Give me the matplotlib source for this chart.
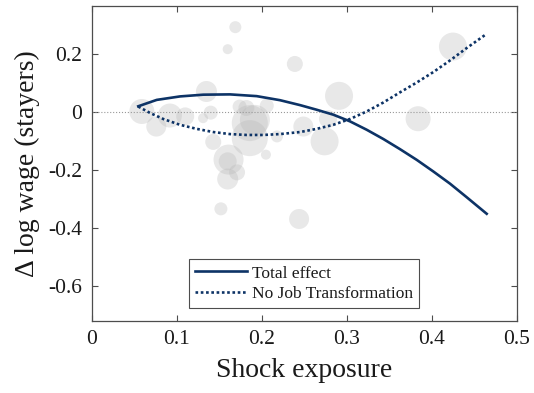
import numpy as np
import matplotlib
matplotlib.use("Agg")
import matplotlib.pyplot as plt

# bubble data (shock exposure, wage change, bubble radius in px)
bubble_x = [0.169, 0.160, 0.239, 0.425, 0.135, 0.291, 0.059, 0.076, 0.092, 0.110,
            0.140, 0.131, 0.143, 0.161, 0.171, 0.160, 0.152, 0.244, 0.174, 0.182,
            0.186, 0.192, 0.186, 0.205, 0.218, 0.206, 0.249, 0.274, 0.384, 0.278,
            0.160]
bubble_y = [0.293, 0.217, 0.166, 0.226, 0.071, 0.056, 0.002, -0.050, -0.012, -0.015,
            -0.002, -0.021, -0.103, -0.164, -0.208, -0.231, -0.334, -0.369, 0.019, 0.014,
            -0.038, -0.027, -0.090, -0.147, -0.084, 0.022, -0.050, -0.101, -0.023, -0.024,
            -0.170]
bubble_r = [6, 5, 8, 14, 10.5, 14, 12.5, 10, 12, 9,
            7, 5, 8, 15, 8, 10.5, 6.5, 10, 7, 8,
            18, 15, 18, 5, 6, 7, 10, 14, 12.5, 9,
            9]

# fitted curves
total_x = [0.0548, 0.0765, 0.1039, 0.1313, 0.1627, 0.1941, 0.2215, 0.2451, 0.2647,
           0.2842, 0.3038, 0.3235, 0.3431, 0.3627, 0.3824, 0.4019, 0.4215, 0.4412,
           0.4647]
total_y = [0.020, 0.042, 0.054, 0.060, 0.061, 0.055, 0.041, 0.024, 0.008,
           -0.009, -0.032, -0.061, -0.093, -0.128, -0.165, -0.205, -0.247, -0.294,
           -0.351]
nojob_x = [0.0548, 0.0686, 0.0843, 0.1039, 0.1235, 0.1431, 0.1627, 0.1824, 0.2019,
           0.2215, 0.2451, 0.2647, 0.2842, 0.3038, 0.3235, 0.3431, 0.3627, 0.3824,
           0.4019, 0.4215, 0.4412, 0.4647]
nojob_y = [0.019, -0.003, -0.024, -0.044, -0.058, -0.069, -0.076, -0.079, -0.079,
           -0.076, -0.069, -0.058, -0.044, -0.024, 0.002, 0.033, 0.068, 0.102,
           0.138, 0.178, 0.221, 0.270]

navy = '#0d3366'
plt.rcParams['font.family'] = ['Liberation Serif', 'DejaVu Serif']

fig = plt.figure(figsize=(5.34, 3.93), dpi=100)
ax = fig.add_axes([0.1717, 0.184, 0.7959, 0.8007])

sizes = [(2 * r * 0.72) ** 2 for r in bubble_r]
ax.scatter(bubble_x, bubble_y, s=sizes, color='0.72', alpha=0.32,
           linewidths=0, zorder=1)
ax.axhline(0, color='0.6', lw=0.8, ls=':', zorder=2)

ax.plot(total_x, total_y, color=navy, lw=1.9, label='Total effect', zorder=3)
ax.plot(nojob_x, nojob_y, color=navy, lw=1.9, ls=(0, (1, 1)),
        label='No Job Transformation', zorder=3)

ax.set_xlim(0, 0.5)
ax.set_ylim(-0.72, 0.366)
ax.set_xticks([0, 0.1, 0.2, 0.3, 0.4, 0.5])
ax.set_xticklabels(['0', '0.1', '0.2', '0.3', '0.4', '0.5'])
ax.set_yticks([-0.6, -0.4, -0.2, 0, 0.2])
ax.set_yticklabels(['-0.6', '-0.4', '-0.2', '0', '0.2'])
ax.tick_params(direction='in', top=True, right=True, length=4, width=0.8,
               color='0.3', labelsize=15.5, pad=7, labelcolor='0.1')
for s in ax.spines.values():
    s.set_color('0.3')
    s.set_linewidth(0.9)

ax.set_xlabel('Shock exposure', fontsize=20, color='0.1', labelpad=6)
ax.set_ylabel('Δ log wage (stayers)', fontsize=20, color='0.1', labelpad=6)

leg = ax.legend(loc='lower center', bbox_to_anchor=(0.5, 0.04), fontsize=12.5,
                fancybox=False, edgecolor='0.3', framealpha=1, handlelength=3.0,
                handletextpad=0.3, borderpad=0.35, labelspacing=0.25,
                borderaxespad=0)
leg.get_frame().set_linewidth(0.8)
for t in leg.get_texts():
    t.set_color('0.1')

fig.savefig('out.png', dpi=100)
